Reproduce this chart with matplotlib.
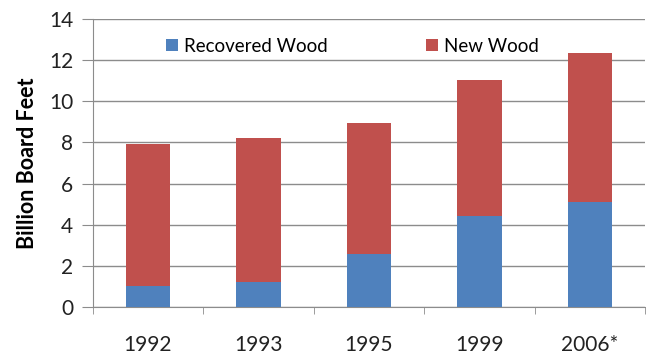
import numpy as np
import matplotlib.pyplot as plt

plt.rcParams['font.family'] = ['Lato', 'DejaVu Sans']

years = ['1992', '1993', '1995', '1999', '2006*']
recovered = [1.05, 1.25, 2.6, 4.45, 5.1]
new_wood = [6.85, 6.95, 6.33, 6.55, 7.25]

fig = plt.figure(figsize=(6.46, 3.58), dpi=100)
ax = fig.add_axes([0.1432, 0.1416, 0.856, 0.8064])

x = np.arange(len(years))
ax.bar(x, recovered, width=0.4, color='#4F81BD', label='Recovered Wood', zorder=3)
ax.bar(x, new_wood, width=0.4, bottom=recovered, color='#C0504D', label='New Wood', zorder=3)

ax.set_xlim(-0.5, 4.5)
ax.set_ylim(0, 14)
ax.set_yticks(range(0, 15, 2))
ax.yaxis.grid(True, color='#8c8c8c', linewidth=1, zorder=0)
ax.set_xticks(x)
ax.set_xticklabels(years)
ax.set_xticks(np.arange(-0.5, 5, 1), minor=True)
ax.tick_params(axis='x', which='major', length=0, labelsize=15, pad=20, colors='#222222')
ax.tick_params(axis='x', which='minor', length=5, color='#8c8c8c')
ax.tick_params(axis='y', length=8, color='#8c8c8c', labelsize=15, pad=6, labelcolor='#222222')
for s in ['top', 'right']:
    ax.spines[s].set_visible(False)
for s in ['left', 'bottom']:
    ax.spines[s].set_color('#8c8c8c')

ax.set_ylabel('Billion Board Feet', fontsize=15.5, fontweight='bold', labelpad=8)

ax.legend(loc='center', bbox_to_anchor=(0.47, 0.905), ncol=2, frameon=False,
          fontsize=13.5, handlelength=0.65, handleheight=0.65, handletextpad=0.35,
          columnspacing=5.2)

fig.savefig('out.png', dpi=100)
